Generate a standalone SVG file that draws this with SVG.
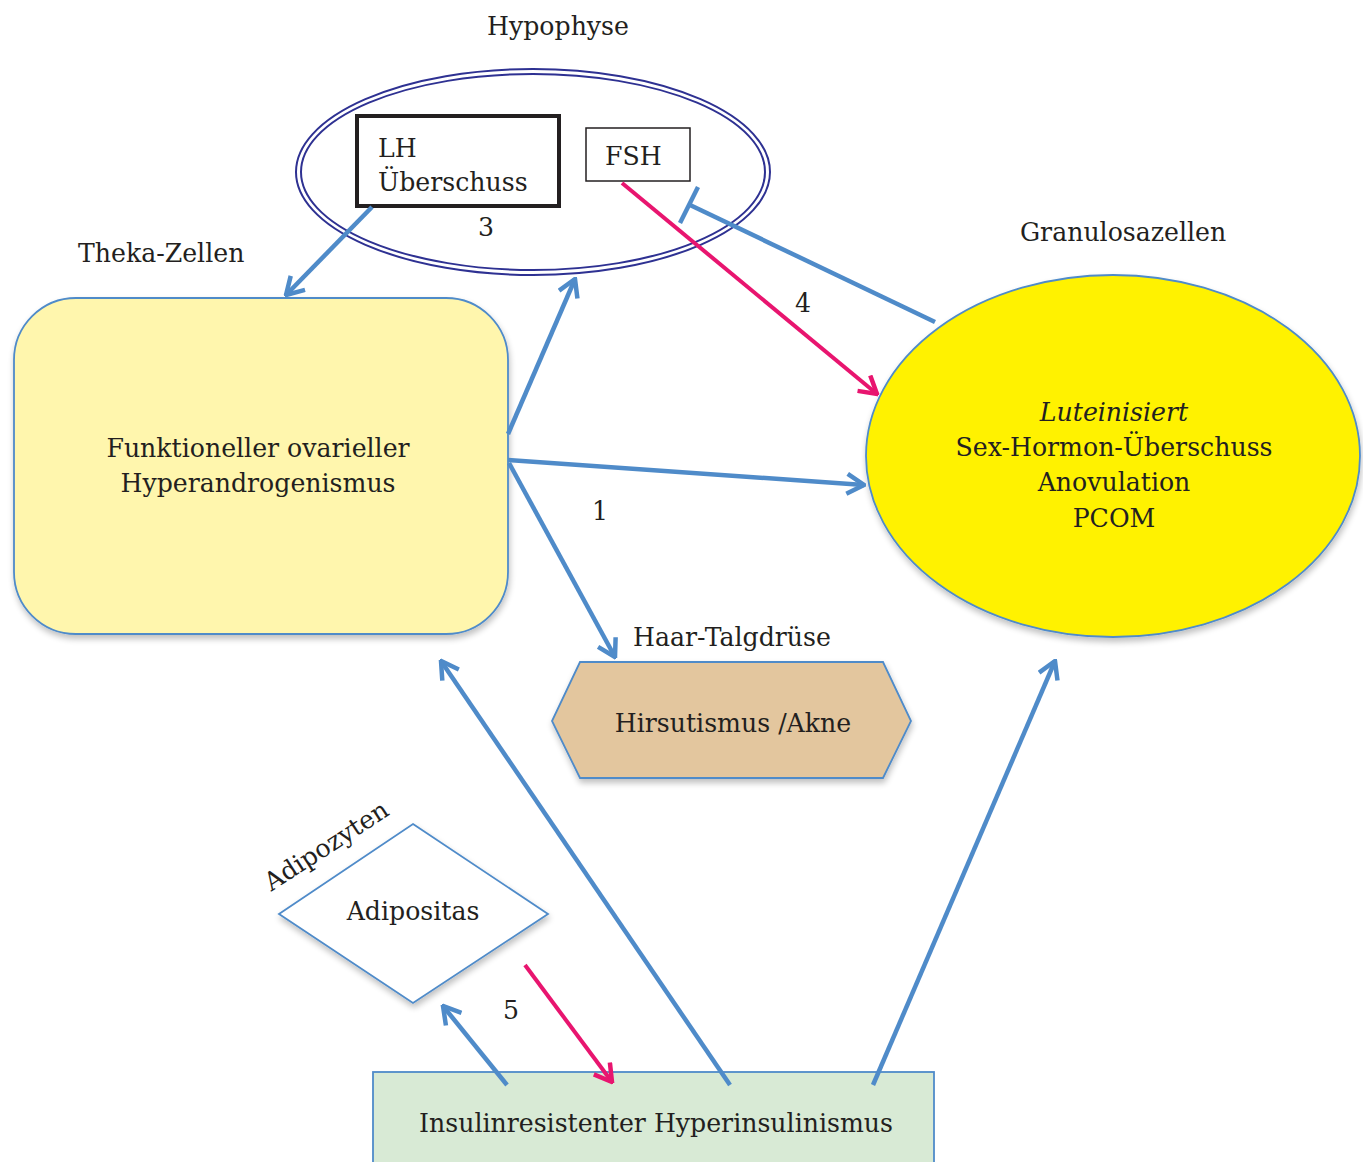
<svg xmlns="http://www.w3.org/2000/svg" width="1363" height="1162" viewBox="0 0 1363 1162">
<style>
text{font-family:"DejaVu Serif","Liberation Serif",serif;fill:#231f20;font-size:25.2px}
.c{text-anchor:middle}
.blue{stroke:#4f8bc9;stroke-width:4.5;fill:none;stroke-linecap:butt}
.pink{stroke:#e8156f;stroke-width:4;fill:none}
</style>
<defs>
<marker id="ab" markerUnits="userSpaceOnUse" viewBox="-20 -12 22 24" refX="0" refY="0" markerWidth="22" markerHeight="24" orient="auto">
<polyline points="-17,-10 0,0 -17,10" fill="none" stroke="#4f8bc9" stroke-width="4.5"/>
</marker>
<marker id="ap" markerUnits="userSpaceOnUse" viewBox="-20 -12 22 24" refX="0" refY="0" markerWidth="22" markerHeight="24" orient="auto">
<polyline points="-17,-10 0,0 -17,10" fill="none" stroke="#e8156f" stroke-width="4.5"/>
</marker>
<filter id="sh" x="-10%" y="-10%" width="120%" height="125%">
<feGaussianBlur in="SourceAlpha" stdDeviation="3"/>
<feOffset dx="1" dy="4"/>
<feComponentTransfer><feFuncA type="linear" slope="0.25"/></feComponentTransfer>
<feMerge><feMergeNode/><feMergeNode in="SourceGraphic"/></feMerge>
</filter>
</defs>
<rect width="1363" height="1162" fill="#ffffff"/>

<g id="hypophyse">
<text class="c" x="558" y="35">Hypophyse</text>
<ellipse cx="533" cy="172" rx="237" ry="103" fill="#ffffff" stroke="#2e3192" stroke-width="2"/>
<ellipse cx="533" cy="172" rx="232" ry="98" fill="none" stroke="#2e3192" stroke-width="2"/>
</g>
<g id="lh">
<rect x="357" y="116" width="202" height="90" fill="#ffffff" stroke="#231f20" stroke-width="4"/>
<text x="378" y="157">LH</text>
<text x="378" y="191">Überschuss</text>
</g>
<g id="fsh">
<rect x="586" y="128" width="104" height="53" fill="#ffffff" stroke="#231f20" stroke-width="1.5"/>
<text x="605" y="165">FSH</text>
</g>

<g id="theka">
<text x="78" y="262">Theka-Zellen</text>
<rect x="14" y="298" width="494" height="336" rx="62" ry="62" fill="#fff6ad" stroke="#4f8bc9" stroke-width="1.8" filter="url(#sh)"/>
<text class="c" x="258" y="457">Funktioneller ovarieller</text>
<text class="c" x="258" y="492">Hyperandrogenismus</text>
</g>

<g id="granulosa">
<text x="1020" y="241">Granulosazellen</text>
<ellipse cx="1113" cy="456" rx="247" ry="181" fill="#fff200" stroke="#4f8bc9" stroke-width="1.8" filter="url(#sh)"/>
<text class="c" x="1114" y="421" font-style="italic">Luteinisiert</text>
<text class="c" x="1114" y="456">Sex-Hormon-Überschuss</text>
<text class="c" x="1114" y="491">Anovulation</text>
<text class="c" x="1114" y="527">PCOM</text>
</g>

<g id="haar">
<text x="633" y="646">Haar-Talgdrüse</text>
<polygon points="580,662 883,662 911,721 883,778 580,778 552,721" fill="#e3c69e" stroke="#4f8bc9" stroke-width="1.8" filter="url(#sh)"/>
<text class="c" x="733" y="732">Hirsutismus /Akne</text>
</g>

<g id="adipo">
<text transform="translate(331,853) rotate(-33)" class="c" x="0" y="0">Adipozyten</text>
<polygon points="413,824 548,914 413,1003 279,914" fill="#ffffff" stroke="#4f8bc9" stroke-width="1.8" filter="url(#sh)"/>
<text class="c" x="413" y="920">Adipositas</text>
</g>

<g id="insulin">
<rect x="373" y="1072" width="561" height="100" fill="#d8ead5" stroke="#4f8bc9" stroke-width="1.8"/>
<text class="c" x="656" y="1132">Insulinresistenter Hyperinsulinismus</text>
</g>

<g id="connectors">
<line class="blue" x1="372" y1="207" x2="286" y2="295" marker-end="url(#ab)"/>
<line class="blue" x1="508" y1="434" x2="575" y2="279" marker-end="url(#ab)"/>
<line class="blue" x1="508" y1="460" x2="864" y2="485" marker-end="url(#ab)"/>
<line class="blue" x1="509" y1="463" x2="615" y2="657" marker-end="url(#ab)"/>
<line class="blue" x1="935" y1="322" x2="690" y2="205"/>
<line class="blue" x1="698" y1="187" x2="680" y2="223"/>
<line class="pink" x1="622" y1="183" x2="877" y2="394" marker-end="url(#ap)"/>
<line class="blue" x1="730" y1="1085" x2="441" y2="661" marker-end="url(#ab)"/>
<line class="blue" x1="873" y1="1085" x2="1055" y2="661" marker-end="url(#ab)"/>
<line class="blue" x1="507" y1="1085" x2="443" y2="1006" marker-end="url(#ab)"/>
<line class="pink" x1="525" y1="965" x2="612" y2="1082" marker-end="url(#ap)"/>
</g>

<g id="labels">
<text class="c" x="486" y="236">3</text>
<text class="c" x="600" y="520">1</text>
<text class="c" x="803" y="312">4</text>
<text class="c" x="511" y="1019">5</text>
</g>
</svg>
